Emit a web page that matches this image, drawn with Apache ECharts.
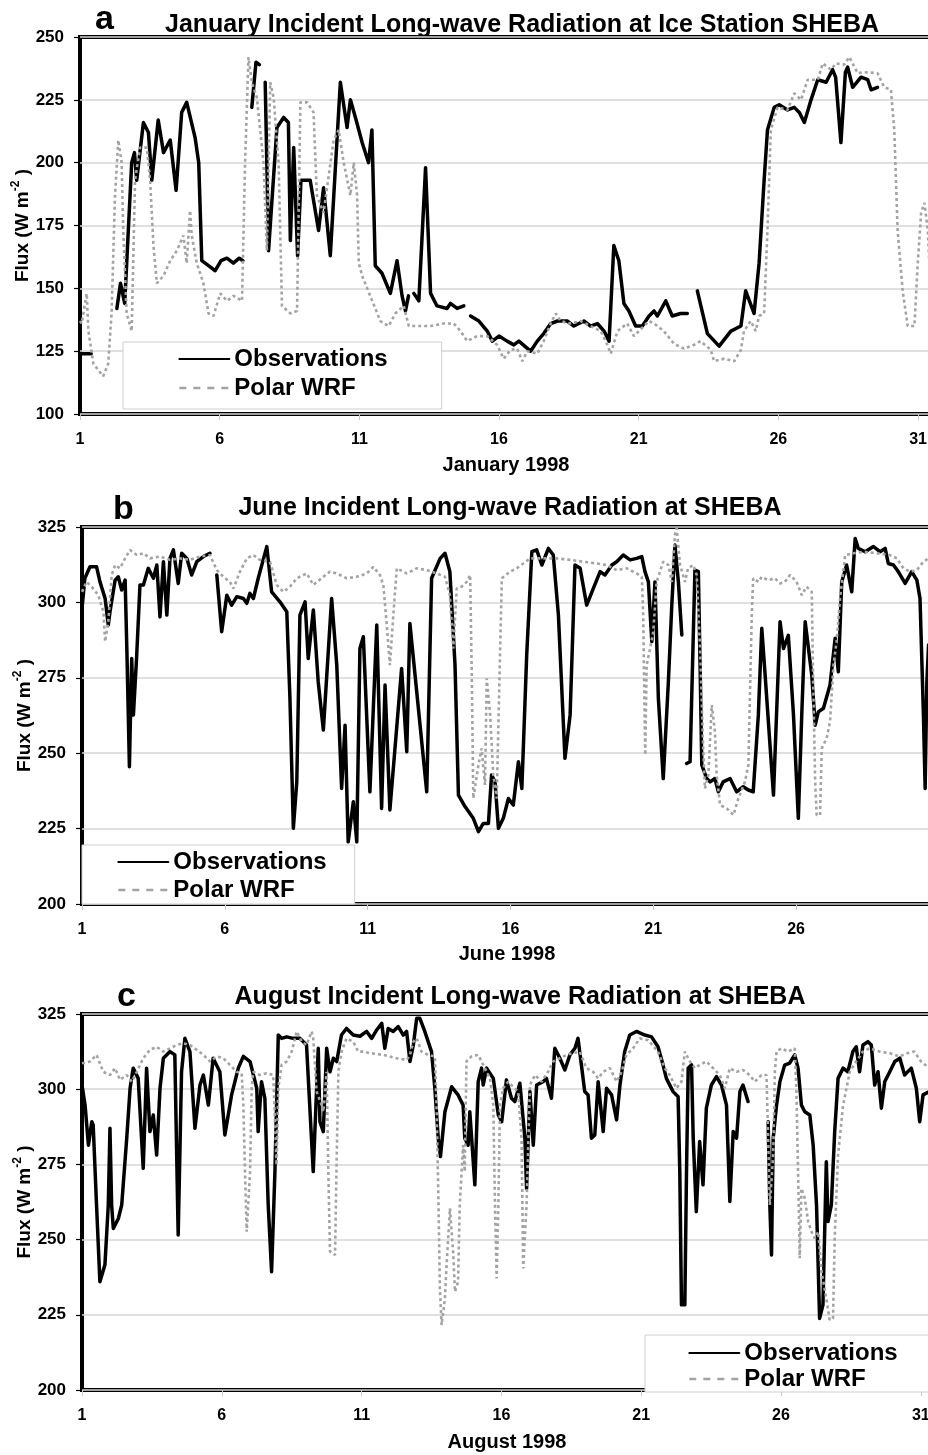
<!DOCTYPE html>
<html><head><meta charset="utf-8">
<script src="https://cdn.jsdelivr.net/npm/echarts@6/dist/echarts.min.js"></script>
<style>html,body{margin:0;padding:0;background:#fff}#c{width:928px;height:1455px}</style>
</head><body><div id="c"></div>
<script>
// ---------- data ----------
const dayTicks = [1, 6, 11, 16, 21, 26, 31];
const janFluxTicks = [100, 125, 150, 175, 200, 225, 250];
const summerFluxTicks = [200, 225, 250, 275, 300, 325];
const seriesNames = ['Observations', 'Polar WRF'];
const panelLetters = ['a', 'b', 'c'];
const panelTitles = [
  'January Incident Long-wave Radiation at Ice Station SHEBA',
  'June Incident Long-wave Radiation at SHEBA',
  'August Incident Long-wave Radiation at SHEBA'
];
const monthLabels = ['January 1998', 'June 1998', 'August 1998'];

// [day, flux W m-2]; null flux = gap in record
const janObs = [
[1.0,124],[1.4,124],[1.8,null],
[2.32,142],[2.45,152],[2.6,144],[2.85,200],[2.95,204],[3.03,193],[3.27,216],[3.45,212],[3.57,193],[3.8,217],[3.99,204],[4.23,209],[4.44,189],[4.64,220],[4.82,224],[5.12,210],[5.25,200],[5.36,161],[5.6,159],[5.84,157],[6.05,161],[6.26,162],[6.49,160],[6.7,162],[6.83,161],[7.0,null],
[7.15,222],[7.3,240],[7.42,239],[7.5,null],
[7.63,232],[7.75,165],[8.05,214],[8.29,218],[8.46,216],[8.53,169],[8.65,206],[8.79,163],[8.91,193],[9.24,193],[9.54,173],[9.72,190],[9.96,163],[10.32,232],[10.56,214],[10.68,225],[10.86,218],[11.1,208],[11.33,200],[11.45,213],[11.57,159],[11.81,156],[12.11,148],[12.35,161],[12.53,147],[12.65,141],[12.76,147],[12.85,null],
[12.95,148],[13.13,145],[13.37,198],[13.55,148],[13.78,143],[14.14,142],[14.26,144],[14.5,142],[14.74,143],[14.85,null],
[14.98,139],[15.28,137],[15.58,133],[15.76,129],[16.0,131],[16.29,129],[16.53,127.5],[16.71,129],[17.13,125],[17.37,129],[17.6,132],[17.85,136],[18.09,137],[18.44,137],[18.68,135],[19.04,137],[19.28,135],[19.52,136],[19.76,133],[19.94,129],[20.11,167],[20.29,161],[20.47,144],[20.65,141],[20.89,135],[21.13,135],[21.37,139],[21.55,141],[21.67,139],[21.97,145],[22.2,139],[22.5,140],[22.74,140],[22.9,null],
[23.1,149],[23.46,132],[23.88,127],[24.3,133],[24.66,135],[24.83,149],[25.13,140],[25.31,160],[25.49,193],[25.61,213],[25.85,222],[26.03,223],[26.33,221],[26.57,222],[26.75,220],[26.93,216],[27.17,225],[27.41,233],[27.71,232],[27.94,237],[28.05,234],[28.24,208],[28.4,236],[28.48,238],[28.66,230],[28.96,234],[29.2,233],[29.32,229],[29.55,230]
];
const janWrf = [
[1.0,137],[1.06,136],[1.24,148],[1.3,133],[1.48,120],[1.83,115],[2.01,120],[2.13,140],[2.25,186],[2.37,209],[2.49,200],[2.55,173],[2.67,140],[2.85,133],[2.97,193],[3.15,206],[3.39,206],[3.51,193],[3.63,167],[3.75,152],[3.99,155],[4.23,161],[4.47,165],[4.7,171],[4.82,160],[4.94,181],[5.0,171],[5.18,160],[5.42,152],[5.6,140],[5.78,139],[6.02,148],[6.26,145],[6.5,147],[6.8,145],[6.91,200],[7.03,242],[7.15,232],[7.33,226],[7.57,200],[7.69,165],[7.81,232],[7.93,226],[8.11,200],[8.23,143],[8.53,140],[8.77,141],[8.89,224],[9.13,224],[9.36,220],[9.48,187],[9.72,180],[10.08,209],[10.26,213],[10.44,200],[10.68,187],[10.8,200],[10.92,187],[10.98,160],[11.1,155],[11.39,147],[11.75,137],[12.05,135],[12.29,140],[12.59,143],[12.77,135],[13.07,135],[13.54,135],[14.02,136],[14.38,136],[14.62,133],[14.86,129],[15.22,131],[15.58,131],[15.93,127.5],[16.17,122],[16.41,125.5],[16.65,126],[16.83,121],[17.01,125],[17.37,124],[17.6,129],[17.85,136],[18.03,140],[18.2,137],[18.56,136],[18.92,137],[19.28,135],[19.64,133],[19.88,127.5],[20.0,124],[20.24,133],[20.59,136],[20.83,131],[21.19,135],[21.37,137],[21.55,136],[21.9,133],[22.26,128],[22.62,126],[22.98,127.5],[23.22,129],[23.58,125.5],[23.7,121],[24.06,122],[24.42,121],[24.66,125.5],[24.77,133],[25.01,137],[25.19,133],[25.31,139],[25.49,140],[25.61,173],[25.73,213],[25.97,222],[26.33,221],[26.57,227.6],[26.81,225],[27.05,233],[27.41,233],[27.59,239.5],[27.88,237],[28.06,239.5],[28.36,239],[28.54,242],[28.84,235.6],[29.08,236],[29.55,235.6],[29.79,230],[30.03,229],[30.15,213],[30.27,173],[30.45,149],[30.63,135],[30.87,135],[30.99,160],[31.11,180],[31.23,184],[31.35,173],[31.45,149]
];
const junObs = [
[1.0,298],[1.1,308],[1.28,311.8],[1.51,311.8],[1.63,306.8],[1.81,301.3],[1.92,292.5],[1.98,296.9],[2.16,307.4],[2.27,308.5],[2.39,304.1],[2.51,307.4],[2.57,284.7],[2.66,245.5],[2.74,281.4],[2.8,262.7],[2.91,281.4],[3.03,305.8],[3.15,305.8],[3.32,311.3],[3.5,308],[3.62,312.4],[3.73,295.2],[3.85,313.5],[3.97,295.8],[4.08,314.6],[4.2,317.4],[4.37,306.3],[4.49,316.3],[4.67,314.6],[4.84,309.1],[5.02,313.5],[5.25,315.2],[5.48,316.3],[5.6,null],
[5.72,309.1],[5.89,290.3],[6.07,302.4],[6.24,299.1],[6.42,301.9],[6.65,301.3],[6.77,299.7],[6.88,303],[7.0,301.3],[7.17,308],[7.47,318.5],[7.64,303.5],[7.93,300.2],[8.17,296.9],[8.28,268.2],[8.4,225.1],[8.52,240.5],[8.63,295.8],[8.81,300.2],[8.92,281.4],[9.1,297.5],[9.27,273.7],[9.45,257.7],[9.74,301.3],[9.92,279.2],[10.09,238.3],[10.21,259.3],[10.32,220.6],[10.5,233.9],[10.62,220.6],[10.73,284.7],[10.85,288.6],[11.08,237.2],[11.32,292.5],[11.49,231.7],[11.61,272.6],[11.78,231.2],[12.19,278.1],[12.37,250.5],[12.48,293],[13.07,237.2],[13.24,308],[13.54,314.6],[13.71,316.3],[13.88,310.2],[14.06,279.2],[14.18,236.1],[14.41,232.3],[14.7,228.4],[14.88,224],[15.05,226.7],[15.23,226.7],[15.34,242.8],[15.46,240.5],[15.58,225.1],[15.75,228.4],[15.93,235],[16.1,232.8],[16.28,247.2],[16.4,238.3],[16.57,282.6],[16.75,316.8],[16.92,317.4],[17.1,312.4],[17.33,317.9],[17.5,315.7],[17.68,295.8],[17.91,248.3],[18.09,262.7],[18.26,312.4],[18.44,311.3],[18.67,299.1],[18.9,304.6],[19.14,310.2],[19.31,309.1],[19.55,312.4],[19.72,313.5],[19.95,315.7],[20.19,314.1],[20.42,314.6],[20.6,315.2],[20.71,310.2],[20.83,306.8],[20.95,287],[21.06,306.8],[21.18,268.2],[21.35,241.6],[21.53,273.7],[21.65,299.1],[21.76,319],[21.88,306.8],[22.0,289.2],[22.08,null],
[22.17,246.6],[22.29,247.2],[22.46,310.7],[22.58,310.2],[22.64,279.2],[22.7,246.1],[22.87,241.6],[22.99,240.5],[23.16,241.6],[23.28,237.2],[23.45,240.5],[23.69,241.6],[23.92,237.2],[24.15,238.9],[24.33,237.8],[24.5,237.2],[24.68,262.7],[24.8,291.4],[24.91,277],[25.21,236.1],[25.44,293.6],[25.56,284.7],[25.73,289.1],[25.91,262.7],[26.08,228.4],[26.2,262.7],[26.32,293.6],[26.55,275.9],[26.67,259.3],[26.78,263.7],[26.96,264.9],[27.19,272.6],[27.37,288.1],[27.48,277],[27.6,306.8],[27.77,312.4],[27.95,303.5],[28.07,321.2],[28.18,317.9],[28.42,316.8],[28.71,318.5],[28.94,316.8],[29.12,317.9],[29.23,312.9],[29.41,312.4],[29.58,310.2],[29.82,306.3],[30.05,310.2],[30.23,307.4],[30.34,301.3],[30.46,262.7],[30.52,238.3],[30.58,273.7],[30.64,285.9]
];
const junWrf = [
[1.0,303.5],[1.16,306.8],[1.34,305.2],[1.57,302.4],[1.75,296.9],[1.81,287],[1.92,293.6],[2.04,309.1],[2.16,312.4],[2.33,311.3],[2.51,314.6],[2.68,317.4],[2.92,315.7],[3.15,316.3],[3.38,314.6],[3.73,315.2],[4.08,314.1],[4.43,314.6],[4.78,314.1],[5.13,315.2],[5.48,315.7],[5.72,310.7],[5.95,308.5],[6.18,306.8],[6.3,304.6],[6.53,310.2],[6.77,314.6],[7.0,315.7],[7.23,314.1],[7.58,313.5],[7.82,305.8],[8.05,303.5],[8.28,305.2],[8.52,308],[8.87,309.6],[9.1,305.8],[9.45,308.5],[9.68,310.2],[9.92,309.6],[10.27,308],[10.62,308.5],[10.97,309.6],[11.2,311.8],[11.43,309.1],[11.55,305.8],[11.67,292.5],[11.78,279.2],[11.9,295.8],[12.02,311.3],[12.37,309.6],[12.72,311.3],[13.07,310.7],[13.42,309.6],[13.71,308.5],[13.88,302.4],[14.0,284.7],[14.12,304.6],[14.29,305.2],[14.47,306.8],[14.59,309.1],[14.65,273.7],[14.7,235],[14.88,246.1],[14.99,251.6],[15.11,239.5],[15.17,274.8],[15.29,262.7],[15.4,242.8],[15.52,235],[15.64,284.7],[15.7,308],[15.99,310.2],[16.22,311.3],[16.45,312.9],[16.69,314.6],[17.15,314.6],[17.62,314.6],[18.09,314.1],[18.55,313.5],[19.02,312.9],[19.37,312.4],[19.72,310.7],[20.07,311.3],[20.42,309.6],[20.6,308.5],[20.65,295.8],[20.68,273.7],[20.72,249.4],[20.77,279.2],[20.89,284.7],[21.0,290.3],[21.12,306.8],[21.35,313.5],[21.53,312.4],[21.65,306.8],[21.76,322.4],[21.82,324.6],[21.94,312.4],[22.11,306.8],[22.22,311.3],[22.4,312.4],[22.52,309.1],[22.64,284.7],[22.75,251.6],[22.81,238.3],[22.93,242.8],[23.05,266],[23.16,257.2],[23.22,242.8],[23.34,232.8],[23.57,231.7],[23.81,229.5],[23.98,235],[24.21,240.5],[24.33,246.1],[24.45,295.8],[24.5,308],[24.68,306.8],[24.8,308.5],[25.02,307.4],[25.26,308],[25.43,306.3],[25.61,306.8],[25.79,309.1],[26.02,306.8],[26.2,302.4],[26.37,305.2],[26.55,303.5],[26.6,273.7],[26.67,240.5],[26.72,229.5],[26.84,229.5],[26.9,251.6],[27.07,254.9],[27.19,260.4],[27.31,279.2],[27.42,287],[27.54,301.3],[27.72,315.7],[28.01,316.3],[28.36,316.8],[28.83,316.3],[29.29,315.7],[29.53,314.6],[29.76,311.3],[30.0,310.2],[30.23,310.7],[30.46,313.5],[30.64,314.6]
];
const augObs = [
[1.0,301.4],[1.11,294.7],[1.23,281.4],[1.35,289.2],[1.4,288.1],[1.52,261.5],[1.64,236],[1.82,241.6],[1.94,261.5],[2.0,287],[2.06,261.5],[2.12,253.7],[2.3,257],[2.42,261.5],[2.6,283.7],[2.72,300.3],[2.83,307],[3.01,303.6],[3.19,273.7],[3.31,307],[3.43,285.9],[3.55,291.4],[3.67,278.1],[3.79,300.3],[3.91,310.3],[4.15,312.5],[4.32,311.4],[4.44,251.5],[4.56,305.8],[4.68,316.9],[4.86,312.5],[5.04,287],[5.22,301.4],[5.34,304.7],[5.52,294.7],[5.69,310.3],[5.93,305.8],[6.11,284.8],[6.35,298.1],[6.59,307],[6.77,310.9],[7.01,309.2],[7.25,300.3],[7.3,285.9],[7.42,302.5],[7.54,297],[7.66,261.5],[7.78,239.3],[7.9,272.6],[8.02,318],[8.14,316.9],[8.32,317.4],[8.55,316.9],[8.79,316.9],[9.03,314.7],[9.27,272.6],[9.45,313.6],[9.51,289.2],[9.63,285.9],[9.75,313.6],[9.87,305.8],[9.99,310.3],[10.11,309.2],[10.28,318],[10.46,320.2],[10.7,318],[10.94,317.6],[11.18,319.2],[11.36,316.9],[11.54,319.7],[11.72,321.9],[11.83,313.6],[11.95,320.2],[12.13,319.2],[12.31,320.8],[12.49,318],[12.61,319.2],[12.73,309.2],[12.85,314.7],[12.97,323.6],[13.08,323.6],[13.26,319.2],[13.5,312.5],[13.62,300.3],[13.74,283.7],[13.82,277.6],[13.98,292.5],[14.22,300.8],[14.45,298.1],[14.63,294.7],[14.69,283.7],[14.81,281.4],[14.87,292.5],[15.05,268.2],[15.17,302.5],[15.29,307],[15.35,301.4],[15.47,307],[15.71,303.6],[15.89,291.4],[16.01,289.2],[16.18,303.1],[16.36,297],[16.48,295.9],[16.66,302],[16.84,283.7],[16.9,267],[17.02,299.2],[17.14,281.4],[17.26,301.4],[17.49,302.5],[17.61,303.6],[17.79,297],[17.91,313.6],[18.09,310.3],[18.27,306.4],[18.45,311.4],[18.63,313.6],[18.74,316.9],[18.86,308.1],[18.98,299.2],[19.1,298.1],[19.22,283.7],[19.34,284.8],[19.46,302.5],[19.64,285.9],[19.76,300.3],[19.94,298.1],[20.12,289.8],[20.24,301.4],[20.41,312.5],[20.59,318],[20.83,319.2],[21.13,318],[21.37,317.4],[21.6,314.1],[21.78,308.1],[21.9,303.6],[22.14,299.2],[22.32,297.5],[22.38,272.6],[22.44,228.3],[22.56,228.3],[22.62,272.6],[22.68,307],[22.8,308.1],[22.86,283.7],[22.97,259.3],[23.09,282.6],[23.21,268.2],[23.33,293.7],[23.51,301.4],[23.69,304.2],[23.87,301.4],[24.05,294.7],[24.17,262.7],[24.29,285.9],[24.41,283.7],[24.53,299.2],[24.64,301.4],[24.82,295.9],[25.2,null],
[25.54,289.2],[25.6,261.5],[25.66,244.9],[25.72,283.7],[25.84,294.7],[25.96,302.5],[26.13,308],[26.31,308.7],[26.49,311.4],[26.61,307],[26.73,294.7],[26.85,292.5],[27.03,291.4],[27.15,281.4],[27.27,261.5],[27.38,223.8],[27.5,228.3],[27.62,275.9],[27.68,256],[27.8,261.5],[27.92,285.9],[28.04,303.6],[28.22,307],[28.39,305.8],[28.57,312.5],[28.69,314.1],[28.81,305.8],[28.93,314.7],[29.11,315.8],[29.23,314.7],[29.35,301.4],[29.47,305.8],[29.59,293.7],[29.71,302.5],[29.89,305.8],[30.07,309.2],[30.25,310.3],[30.42,304.7],[30.66,307],[30.84,300.3],[30.96,289.2],[31.08,298.1],[31.3,299.2]
];
const augWrf = [
[1.0,308.6],[1.29,309.2],[1.52,311.4],[1.76,305.8],[2.0,304.7],[2.18,307],[2.36,303.1],[2.6,304.7],[2.78,302.5],[2.96,305.8],[3.19,310.3],[3.43,313.1],[3.67,314.1],[3.91,312.5],[4.15,313.6],[4.39,314.7],[4.62,315.3],[4.86,314.7],[5.1,313.1],[5.34,311.4],[5.58,309.2],[5.82,310.9],[6.05,310.3],[6.29,308.1],[6.53,305.8],[6.71,305.3],[6.77,294.7],[6.83,272.6],[6.89,252.6],[7.01,272.6],[7.07,300.3],[7.12,305.8],[7.36,304.7],[7.6,305.3],[7.84,304.7],[7.96,274.8],[8.02,300.3],[8.14,308.1],[8.32,309.2],[8.5,312.5],[8.68,319.2],[8.86,315.8],[9.03,314.7],[9.21,319.2],[9.27,316.9],[9.39,299.2],[9.57,294.7],[9.63,292.5],[9.75,305.8],[9.81,272.6],[9.87,246],[10.05,244.9],[10.11,278.1],[10.17,305.8],[10.28,312.5],[10.46,316.9],[10.7,315.8],[10.88,312.5],[11.06,312.5],[11.3,312],[11.77,311.4],[12.25,310.3],[12.61,309.7],[12.73,311.4],[12.85,315.8],[12.97,316.9],[13.14,312.5],[13.38,311.4],[13.62,310.9],[13.68,294.7],[13.74,267],[13.8,233.8],[13.86,221.6],[13.98,230.5],[14.04,241.6],[14.16,260.4],[14.28,244.9],[14.34,232.7],[14.45,236],[14.51,261.5],[14.63,281.4],[14.69,272.6],[14.75,309.2],[14.93,310.9],[15.17,311.4],[15.35,308.1],[15.59,303.6],[15.71,294.7],[15.77,261.5],[15.83,237.1],[15.89,261.5],[15.95,294.7],[16.06,300.3],[16.24,302.5],[16.42,300.8],[16.6,299.2],[16.72,283.7],[16.78,240.4],[16.9,261.5],[17.02,301.4],[17.2,304.7],[17.44,302.5],[17.67,305.8],[17.85,309.2],[18.09,310.3],[18.33,311.4],[18.57,312],[18.8,312.5],[19.04,307],[19.28,305.8],[19.46,303.6],[19.64,305.8],[19.88,307],[20.12,302.5],[20.3,305.8],[20.47,311.4],[20.71,313.6],[20.95,316.9],[21.25,316.3],[21.6,312.5],[21.84,307],[22.02,304.7],[22.26,300.3],[22.44,302.5],[22.56,312.5],[22.74,309.2],[22.92,307],[23.09,308.1],[23.33,309.2],[23.57,307],[23.81,304.7],[23.99,300.3],[24.17,307],[24.41,305.8],[24.64,306.4],[24.88,304.7],[25.06,302.5],[25.3,304.7],[25.48,304.7],[25.54,283.7],[25.6,261.5],[25.72,278.1],[25.78,305.8],[25.84,312.5],[26.01,313.6],[26.25,312.5],[26.49,313.6],[26.55,300.3],[26.61,272.6],[26.67,243.8],[26.73,267],[26.85,263.7],[26.97,256],[27.09,252.6],[27.21,250.4],[27.33,252.6],[27.45,239.3],[27.62,230.5],[27.74,223.3],[27.86,223.8],[27.92,250.4],[28.04,278.1],[28.22,294.7],[28.46,305.8],[28.69,309.2],[28.93,312.5],[29.17,313.6],[29.53,312.5],[29.88,312],[30.24,310.9],[30.53,312],[30.77,312.5],[31.01,309.2],[31.3,307]
];

// ---------- layout / styling ----------
const FONT = '"Liberation Sans", Arial, Helvetica, sans-serif';
const panels = [
  { obs: janObs, wrf: janWrf, yt: janFluxTicks, top: 37, left: 80, height: 377, xmax: 31.5,
    legend: { left: 123, top: 342, padding: [4, 54, 8, 55], itemGap: 3 },
    title: { x: 522, y: 25 }, letter: { x: 95, y: 20 }, nameGap: 41 },
  { obs: junObs, wrf: junWrf, yt: summerFluxTicks, top: 527, left: 82, height: 377, xmax: 30.76,
    legend: { left: 82, top: 845, padding: [4, 28, 1, 35], itemGap: 2 },
    title: { x: 510, y: 508 }, letter: { x: 113, y: 510 }, nameGap: 40 },
  { obs: augObs, wrf: augWrf, yt: summerFluxTicks, top: 1014, left: 82, height: 376, xmax: 31.4,
    legend: { left: 645, top: 1335, padding: [5, 40, 0, 43], itemGap: 0 },
    title: { x: 520, y: 997 }, letter: { x: 117, y: 997 }, nameGap: 42 }
];

const grids = [], xAxes = [], yAxes = [], series = [], legends = [], graphics = [];
panels.forEach((p, i) => {
  grids.push({ left: p.left, top: p.top, right: -4, height: p.height, show: true,
    containLabel: false, outerBoundsMode: 'none',
    borderColor: '#000', borderWidth: 4, backgroundColor: 'transparent' });
  xAxes.push({
    type: 'value', gridIndex: i, min: dayTicks[0], max: p.xmax,
    interval: dayTicks[1] - dayTicks[0],
    name: monthLabels[i], nameLocation: 'middle', nameGap: p.nameGap, nameMoveOverlap: false,
    nameTextStyle: { fontFamily: FONT, fontSize: 20, fontWeight: 'bold', color: '#000' },
    axisLine: { show: false },
    axisTick: { show: true, length: 6, lineStyle: { color: '#c8c8c8', width: 1 } },
    axisLabel: { fontFamily: FONT, fontSize: 16, fontWeight: 'bold', color: '#000', margin: 18,
      showMaxLabel: false },
    splitLine: { show: false }
  });
  yAxes.push({
    type: 'value', gridIndex: i, min: p.yt[0], max: p.yt[p.yt.length - 1],
    interval: p.yt[1] - p.yt[0],
    name: 'Flux (W m{sup|-2} )', nameLocation: 'middle', nameRotate: 90, nameGap: 44,
    nameMoveOverlap: false,
    nameTextStyle: { fontFamily: FONT, fontSize: 19, fontWeight: 'bold', color: '#000', lineHeight: 26,
      rich: { sup: { fontFamily: FONT, fontSize: 12, fontWeight: 'bold', color: '#000', verticalAlign: 'top', lineHeight: 14 } } },
    axisLine: { show: false },
    axisTick: { show: true, length: 6, lineStyle: { color: '#000', width: 1.2 } },
    axisLabel: { fontFamily: FONT, fontSize: 17, fontWeight: 'bold', color: '#000', margin: 16 },
    splitLine: { show: true, lineStyle: { color: '#d6d6d6', width: 1.5 } }
  });
  series.push({
    name: seriesNames[0], type: 'line', xAxisIndex: i, yAxisIndex: i, data: p.obs,
    symbol: 'none', showSymbol: false, connectNulls: false,
    itemStyle: { color: '#000' },
    lineStyle: { color: '#000', width: 3.5, join: 'round', cap: 'round' }, z: 2
  });
  series.push({
    name: seriesNames[1], type: 'line', xAxisIndex: i, yAxisIndex: i, data: p.wrf,
    symbol: 'none', showSymbol: false,
    itemStyle: { color: '#a3a3a3' },
    lineStyle: { color: '#a3a3a3', width: 2.6, type: [3, 3] }, z: 3
  });
  legends.push({
    data: [
      { name: seriesNames[0] },
      { name: seriesNames[1], lineStyle: { type: [7, 7], width: 2.6, color: '#a3a3a3' } }
    ],
    orient: 'vertical', left: p.legend.left, top: p.legend.top,
    padding: p.legend.padding, itemGap: p.legend.itemGap, itemWidth: 50, itemHeight: 14,
    backgroundColor: '#fff', borderColor: '#cfcfcf', borderWidth: 1, selectedMode: false,
    itemStyle: { opacity: 0 },
    textStyle: { fontFamily: FONT, fontSize: 24, fontWeight: 'bold', color: '#000', lineHeight: 26 }
  });
  graphics.push({ type: 'text', x: p.letter.x, y: p.letter.y,
    style: { text: panelLetters[i], font: 'bold 34px ' + FONT, fill: '#000', textAlign: 'left', textVerticalAlign: 'middle' } });
  graphics.push({ type: 'text', x: p.title.x, y: p.title.y,
    style: { text: panelTitles[i], font: 'bold 25px ' + FONT, fill: '#000', textAlign: 'center', textVerticalAlign: 'middle' } });
});

const chart = echarts.init(document.getElementById('c'), null, { renderer: 'canvas' });
chart.setOption({
  animation: false,
  backgroundColor: '#fff',
  grid: grids, xAxis: xAxes, yAxis: yAxes, series: series, legend: legends, graphic: graphics
});
</script></body></html>
